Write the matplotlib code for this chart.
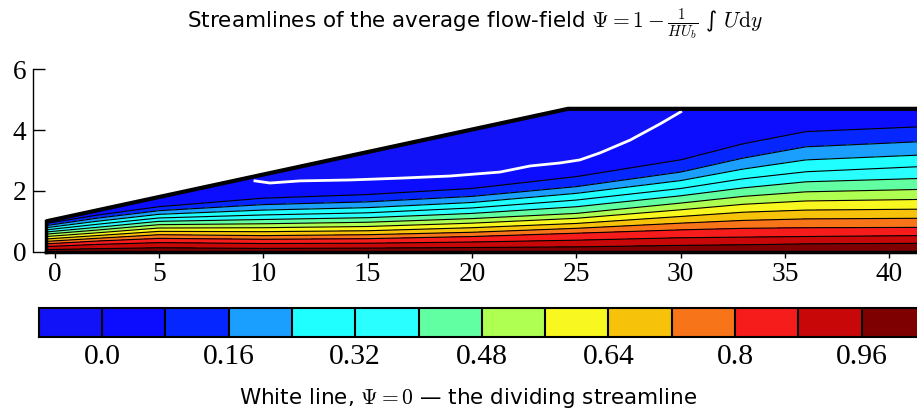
import numpy as np
import matplotlib.pyplot as plt

plt.rcParams['mathtext.fontset'] = 'cm'
plt.rcParams['font.family'] = 'Liberation Serif'

# contour bands of Psi and their colours
band_levels = [-0.08, 0.0, 0.08, 0.16, 0.24, 0.32, 0.40, 0.48, 0.56, 0.64, 0.72, 0.80, 0.88, 0.96, 1.04]
band_colors = ['#1212f8', '#0c0cff', '#0526ff', '#1a9fff', '#20ffff', '#2affff', '#62ffa2',
               '#aeff52', '#f8f820', '#f7c20a', '#f77418', '#f71c1c', '#c80808', '#7f0000']
line_levels = [0.08, 0.16, 0.24, 0.32, 0.40, 0.48, 0.56, 0.64, 0.72, 0.80, 0.88, 0.96]
cbar_ticks = [0.0, 0.16, 0.32, 0.48, 0.64, 0.8, 0.96]
cbar_labels = ['0.0', '0.16', '0.32', '0.48', '0.64', '0.8', '0.96']

# diffuser walls
wall_x = [-0.4, 24.6, 41.5]
wall_y = [1.0, 4.7, 4.7]

# height of each streamline (Psi = 0.08 ... 0.96) at a few x stations
station_x = [-0.4, 2, 5, 10, 15, 20, 25, 30, 33, 36, 41.5]
line_heights = [
    [0.93, 0.86, 0.79, 0.72, 0.65, 0.58, 0.50, 0.42, 0.34, 0.26, 0.17, 0.07],
    [1.20, 1.10, 1.00, 0.90, 0.80, 0.71, 0.62, 0.53, 0.44, 0.35, 0.24, 0.10],
    [1.48, 1.35, 1.23, 1.11, 1.00, 0.89, 0.78, 0.67, 0.56, 0.44, 0.30, 0.13],
    [1.76, 1.55, 1.37, 1.21, 1.06, 0.92, 0.79, 0.66, 0.53, 0.41, 0.27, 0.11],
    [1.88, 1.64, 1.45, 1.28, 1.12, 0.97, 0.83, 0.69, 0.56, 0.43, 0.28, 0.12],
    [2.08, 1.82, 1.62, 1.44, 1.26, 1.09, 0.94, 0.79, 0.64, 0.50, 0.32, 0.14],
    [2.47, 2.14, 1.92, 1.70, 1.48, 1.26, 1.10, 0.93, 0.77, 0.61, 0.38, 0.16],
    [3.02, 2.62, 2.34, 2.08, 1.84, 1.60, 1.38, 1.16, 0.94, 0.72, 0.46, 0.21],
    [3.55, 3.08, 2.72, 2.40, 2.10, 1.82, 1.56, 1.30, 1.03, 0.77, 0.48, 0.23],
    [3.95, 3.45, 3.02, 2.63, 2.30, 1.97, 1.67, 1.37, 1.08, 0.79, 0.50, 0.26],
    [4.11, 3.62, 3.18, 2.80, 2.41, 2.05, 1.72, 1.40, 1.10, 0.80, 0.53, 0.28],
]

# dividing streamline Psi = 0
white_x = [9.60, 10.32, 11.76, 14.15, 16.55, 18.95, 21.34, 22.78, 24.22, 25.17, 26.13, 27.57, 29.0, 30.0]
white_y = [2.33, 2.26, 2.33, 2.36, 2.42, 2.49, 2.62, 2.82, 2.92, 3.02, 3.25, 3.67, 4.20, 4.60]

# build the Psi field on a grid that follows the walls
xg = np.linspace(-0.4, 41.5, 500)
eta = np.linspace(0, 1, 300)
top = np.interp(xg, wall_x, wall_y)
X = np.tile(xg, (len(eta), 1))
Y = np.outer(eta, top)
H = np.array(line_heights)
psi = np.zeros_like(Y)
for i, x in enumerate(xg):
    h = [np.interp(x, station_x, H[:, k]) for k in range(len(line_levels))]
    ys = [0.0] + h[::-1]
    vs = [1.0] + line_levels[::-1]
    if white_x[0] <= x <= white_x[-1]:
        ys += [np.interp(x, white_x, white_y), top[i]]
        vs += [0.0, -0.03]
    else:
        ys += [top[i]]
        vs += [0.0]
    psi[:, i] = np.interp(Y[:, i], ys, vs)

fig = plt.figure(figsize=(9.17, 4.12), dpi=100)
ax = fig.add_axes([0.0363, 0.389, 0.9637, 0.4428])

cf = ax.contourf(X, Y, psi, levels=band_levels, colors=band_colors)
ax.contour(X, Y, psi, levels=line_levels, colors='k', linewidths=0.8)
ax.plot(white_x, white_y, color='white', lw=2)

# walls
ax.plot(wall_x, wall_y, color='k', lw=3, solid_capstyle='butt', clip_on=False)
ax.plot([wall_x[0], wall_x[-1]], [0, 0], color='k', lw=2.5, clip_on=False)
ax.plot([wall_x[0], wall_x[0]], [0, wall_y[0]], color='k', lw=2.5, clip_on=False)

ax.set_xlim(-1.02, 41.32)
ax.set_ylim(0, 6)
for s in ['top', 'right', 'bottom']:
    ax.spines[s].set_visible(False)
ax.spines['left'].set_linewidth(1)
ax.set_xticks([0, 5, 10, 15, 20, 25, 30, 35, 40])
ax.set_yticks([0, 2, 4, 6])
ax.tick_params(axis='y', direction='in', length=8.6, width=1, labelsize=19.7, pad=5)
ax.tick_params(axis='x', direction='out', length=4.3, width=1, labelsize=19.7, pad=3)

cax = fig.add_axes([0.0422, 0.1828, 0.9665, 0.0689])
cb = fig.colorbar(cf, cax=cax, orientation='horizontal', drawedges=True, ticks=cbar_ticks)
cb.ax.set_xticklabels(cbar_labels)
cb.ax.tick_params(length=0, labelsize=21.3, pad=5)
cb.outline.set_linewidth(1.5)
cb.dividers.set_color('k')
cb.dividers.set_linewidth(1.5)

fig.text(475 / 917, 1 - 24 / 412,
         r'Streamlines of the average flow-field $\Psi = 1 - \frac{1}{HU_b}$ ∫ $U\mathrm{d}y$',
         family='DejaVu Sans', fontsize=15.5, ha='center', va='center')
fig.text(468 / 917, 1 - 398 / 412, r'White line, $\Psi = 0$ — the dividing streamline',
         family='DejaVu Sans', fontsize=15.5, ha='center', va='center')

fig.savefig('out.png', dpi=100)
